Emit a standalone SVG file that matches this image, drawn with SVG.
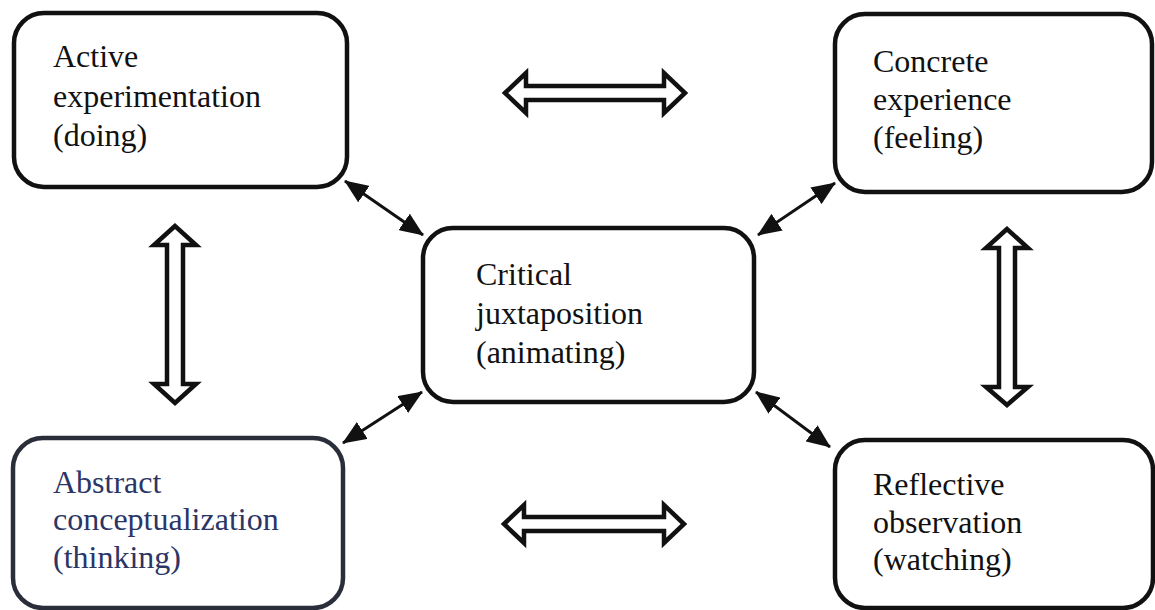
<svg xmlns="http://www.w3.org/2000/svg" width="1155" height="610" viewBox="0 0 1155 610">
  <defs>
    <style>
      .box { fill: #ffffff; stroke: #111111; stroke-width: 4.5; }
      .box-blue { fill: #ffffff; stroke: #2a2d3a; stroke-width: 4.5; }
      .label { font-family: "Liberation Serif", "Times New Roman", serif; font-size: 32px; fill: #111111; }
      .label-blue { font-family: "Liberation Serif", "Times New Roman", serif; font-size: 32px; fill: #2b3566; }
      .link { stroke: #111111; stroke-width: 3; fill: none; }
      .outline-arrow { fill: #ffffff; stroke: #111111; stroke-width: 4.5; stroke-linejoin: miter; }
    </style>
    <marker id="head" viewBox="0 0 24 20" refX="23" refY="10" markerWidth="24" markerHeight="20" markerUnits="userSpaceOnUse" orient="auto-start-reverse">
      <path d="M0,0 L24,10 L0,20 Z" fill="#111111"/>
    </marker>
  </defs>

  <rect width="1155" height="610" fill="#ffffff"/>

  <!-- connectors -->
  <g id="connectors">
    <!-- outline double arrows between the outer boxes -->
    <polygon class="outline-arrow" points="505,93 526,73 526,86 664,86 664,73 685,93 664,113 664,100 526,100 526,113"/>
    <polygon class="outline-arrow" points="504,524 524,505 524,517 664,517 664,505 684,524 664,543 664,531 524,531 524,543"/>
    <polygon class="outline-arrow" points="175,226 154,245 167,245 167,384 154,384 175,403 196,384 183,384 183,245 196,245"/>
    <polygon class="outline-arrow" points="1007,229 986,248 999,248 999,387 986,387 1007,405 1028,387 1015,387 1015,248 1028,248"/>

    <!-- solid double arrows to the centre box -->
    <line class="link" x1="345" y1="181" x2="423" y2="235" marker-start="url(#head)" marker-end="url(#head)"/>
    <line class="link" x1="422" y1="392" x2="343" y2="443" marker-start="url(#head)" marker-end="url(#head)"/>
    <line class="link" x1="758" y1="235" x2="835" y2="183" marker-start="url(#head)" marker-end="url(#head)"/>
    <line class="link" x1="756" y1="392" x2="830" y2="447" marker-start="url(#head)" marker-end="url(#head)"/>
  </g>

  <g id="active-experimentation">
    <rect class="box" x="14" y="13" width="333" height="174" rx="30" ry="30"/>
    <text class="label" x="53" y="67">Active</text>
    <text class="label" x="53" y="107">experimentation</text>
    <text class="label" x="53" y="146">(doing)</text>
  </g>

  <g id="concrete-experience">
    <rect class="box" x="835" y="14" width="317" height="178" rx="30" ry="30"/>
    <text class="label" x="873" y="72">Concrete</text>
    <text class="label" x="873" y="110">experience</text>
    <text class="label" x="873" y="148">(feeling)</text>
  </g>

  <g id="critical-juxtaposition">
    <rect class="box" x="423" y="228" width="331" height="174" rx="30" ry="30"/>
    <text class="label" x="476" y="285">Critical</text>
    <text class="label" x="476" y="324">juxtaposition</text>
    <text class="label" x="476" y="363">(animating)</text>
  </g>

  <g id="abstract-conceptualization">
    <rect class="box-blue" x="13" y="438" width="330" height="170" rx="30" ry="30"/>
    <text class="label-blue" x="53" y="493">Abstract</text>
    <text class="label-blue" x="53" y="530">conceptualization</text>
    <text class="label-blue" x="53" y="568">(thinking)</text>
  </g>

  <g id="reflective-observation">
    <rect class="box" x="835" y="440" width="318" height="168" rx="30" ry="30"/>
    <text class="label" x="873" y="495">Reflective</text>
    <text class="label" x="873" y="533">observation</text>
    <text class="label" x="873" y="570">(watching)</text>
  </g>
</svg>
